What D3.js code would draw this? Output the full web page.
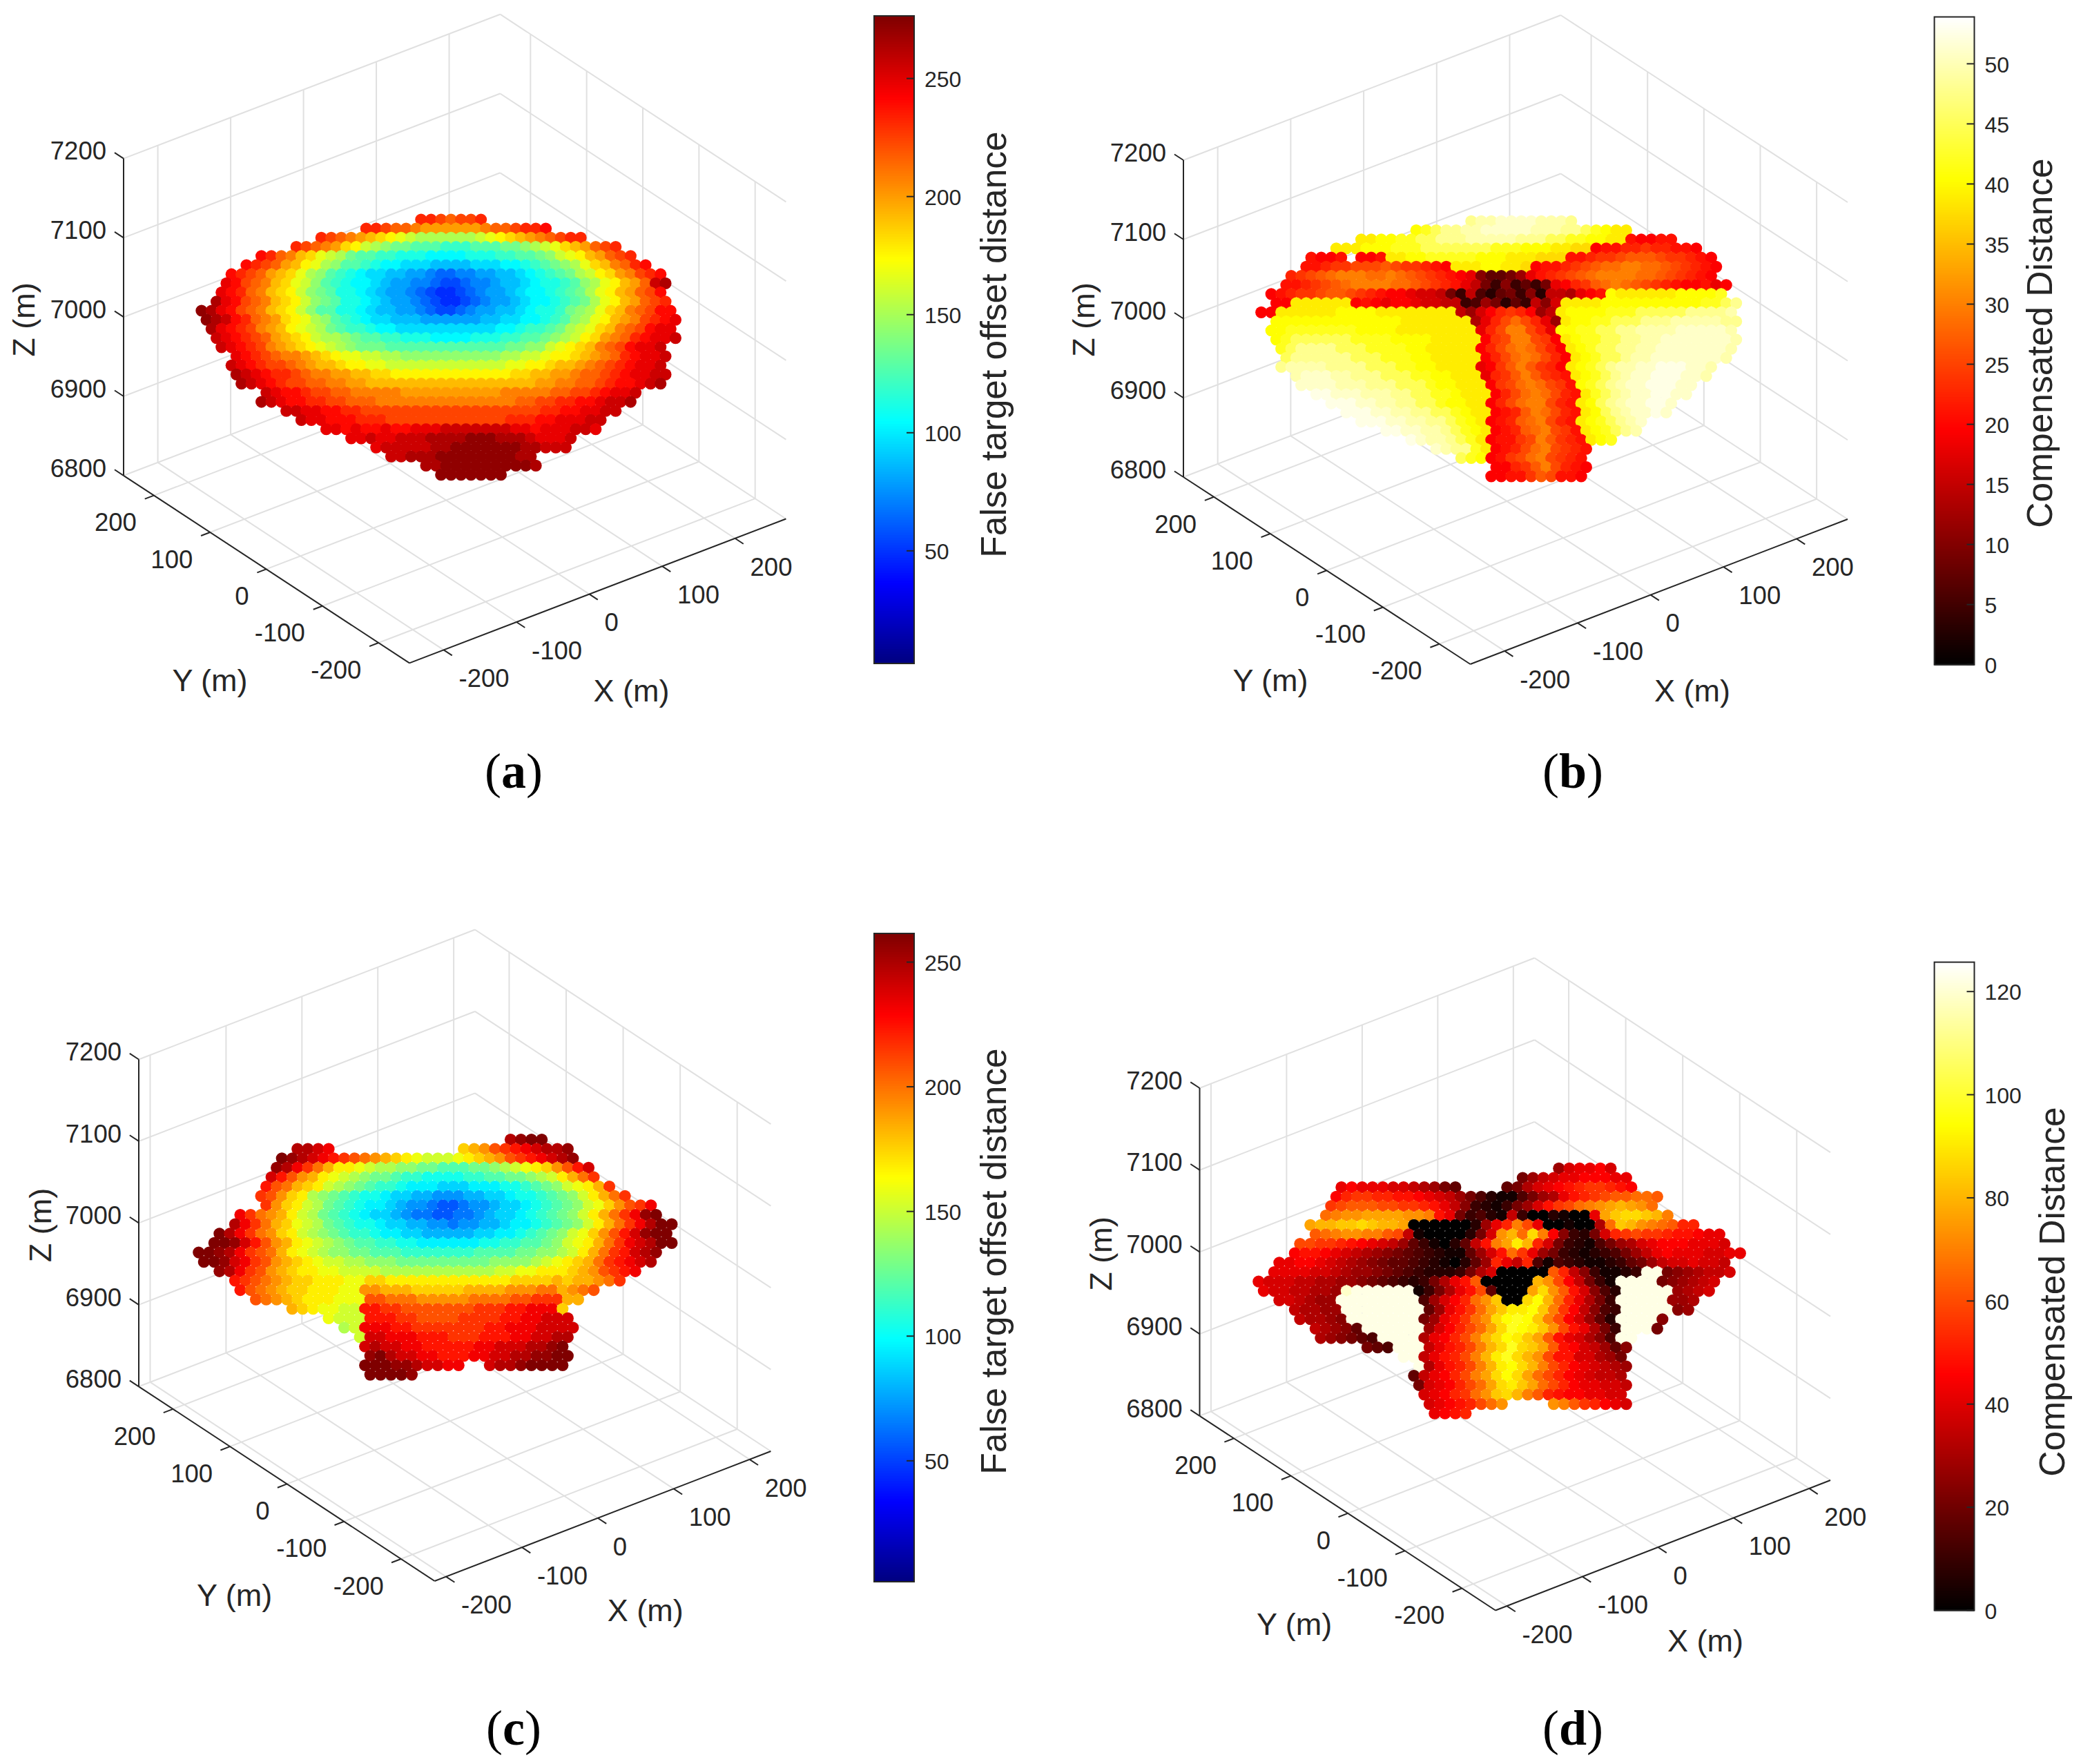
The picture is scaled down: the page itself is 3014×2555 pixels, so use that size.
<!DOCTYPE html>
<html><head><meta charset="utf-8">
<script src="https://cdn.jsdelivr.net/npm/d3@7"></script>
<style>html,body{margin:0;background:#fff}svg{display:block}text{font-family:"Liberation Sans",Arial,sans-serif;fill:#262626}</style>
</head><body>
<script>
// Axis tick labels
const xyTicks = [-200,-100,0,100,200];
const zTicks = [6800,6900,7000,7100,7200];
const barTicksA = [50,100,150,200,250];
const barTicksB = [0,5,10,15,20,25,30,35,40,45,50];
const barTicksC = [50,100,150,200,250];
const barTicksD = [0,20,40,60,80,100,120];
const barLimitsA = [2.3,276.5], barLimitsB = [0,53.9], barLimitsC = [1.5,261.5], barLimitsD = [0,125.7];

// Point samples. Each row is one apparent height (read against the Z axis);
// [first column, one base-36 digit per point]; a digit times the panel's step is the colour value.
const levelRowsA = [
[22,"ttsrsst"],[16,"ttsrrqppppppqrrsttu"],[12,"tsrqponmlkjjjjjjklmnopqrstt"],[9,"tsrqpnmkjihhgggfffggghhijklnoprst"],
[6,"utrqonlkjhggffeeeddddeeeffgghiklmoprst"],[4,"utsrpomljiggfeddcccbbbbcccddefghijlnoqrtu"],[3,"utsrponljigfedccbbaa98899aabbcdefghjkmnpqstu"],
[2,"vusrqonlkigfeddcbaa99877899abbcdeefgijlmoprwx"],[2,"vutrqonmkihgeedcbaa98766789aabcddefghjlmoprsu"],[1,"xvusrqonmkihgeedcbaa98766789aabcddefghjlmoprst"],
[0,"yxvusrqonmkiggeedcbbaa987789aabbcdeefhijlnoqrsuu"],[0,"yxwutrqpnmljigfedccbbbaaaaaabbccddefgijlmopqstuv"],[1,"xvutsqpomlkjhgffeddccccccccccddeffghjklnoqrsuvv"],
[1,"wvutsrponmkjjihggffeeeddddeeeffgghijkmnpqrtuvvw"],[2,"wvutsqponmlkjihhhgggggggggggghhiiklmnoqrsuvvw"],[3,"vutsrqqponmllkkjjiiiiiiiiiijjkklmmnopqrtuvvw"],
[3,"wvutssrqpoonmmllkkkkkkkkkkkkllmmnoopqrstuvvw"],[3,"xwvuttsrqqppoonnmmmmmmmmmmmmnnooppqrrstuvvww"],[4,"xwvutssrrqqppoooooooooooooooooppqqrrstuuvwx"],
[6,"wvuutssrrqqqqqppppppppppqqqqqrrsstuvvw"],[6,"xwvuuttssrrrqqqqqqqqqqqqqqrrssttuuvwwx"],[8,"wwvvuuttssssssssssssssssssttuuvvww"],
[10,"wvvuuutttsssssssssssstttuuvvvww"],[12,"vvuvuuvuuvvvwwwwwwwvvuvvvwwv"],[15,"vvwvvwwwxxxxyyyxxxwvvvw"],[17,"vwwwwwxxyyyyyyyxxwww"],[19,"wwxxxyyyyyyyyxx"],[22,"xxyyyyyyyyyx"],[24,"yyyyyyy"]];
const levelRowsB = [
[21,"wxxyyyyxxxw"],[15,"rsuwwxxyyyyyxxxwwusrqq"],[10,"qqrrssuuwwwxxxxxwwwuussrrqqeddee"],[7,"qqqrrrsssuuuuuuusssrrrqqppdeeffgffeed"],
[5,"edde ddeqqrrsssssrrrqqqpppeefgghiiihggfed"],[4,"eefgghhhihggfedqqqrrqqpdeefghijjkkjjihgfed"],[3,"fghijkkkjjkjihgfedc75568cefghijkkkkjjihgfed"],
[2,"eefghijkkkkjjihgfeca6373536cdfgijkjihgfeddecd"],[1,"defgghiihgfeddcbba63a4256372aa9cderqqqqqqrrrrs"],[1,"ddqqqqqqdedcddcbbaa3486253a7bqqqqrrrrrrrrrrssuw"],
[0,"ddqqqqqqrrrrqqqqqqqqa8bdfgfd8aqrrrrsssuuuuuwwwwx"],[1,"rrrrrrrrrrrrrqqqqqqq9cfhjhfc8qrrssuuuwwwxxxxxww"],[1,"rrsssssssrrrrqqqqqqqqcfhkkhfcrrssuuwwxxxxyyyyyx"],
[1,"rsuuuuuussssrrrrqqqqqdghkkhgdqrssuuwwxxyyyyyyyx"],[2,"suwwwwuuussssrrqqqqqdfhjkjhfdqrsuuwwxxyyyyyyyx"],[2,"uwwwwwwuuusssrrqqqqqdfhjkjhfdqrsuuwxxyyyyyyyx"],
[2,"wxxxxwwwwuuussrrqqqqcdgikigfdqrsuwxxyyzzzyyx"],[3,"xyyyxxwwwuuussrrqqqcfgikigfeqrsuwxyyzzzyyx"],[4,"yyyyxxxwwwuuusrrqqqdghjkjhgersuwxyyzzzyy"],
[5,"zzyyyxxxwwuussrqqqdfhjkjhfeqsuwxyyzzyy"],[7,"zzzyyxxwwuusrrqqdfhjkkhfeqruwxyyzzy"],[8,"zzzyyxxwwuusrqqdefikjhfeqruwxyyzy"],
[10,"zzzyyxxwwusrqdefijkhfeqrsuwxy"],[12,"zzyyxxwusrqdefijkhgeqrsuwx"],[15,"zyxxwusqdeeghkigfeqrs"],[17,"yxwwsqdefhjkhgfe"],[20,"usrdeghjkhgfe"],[23,"ddfgikhfed"],[23,"ddeegiheed"]];
const levelRowsC = [
[30,"vwxx"],[9,"vvut            mnoqrstuvvw"],[8,"xwvutsrqponmlkjjjklmnoqrstuvw"],[7,"wvtrpnllkjiihhggfffgghijklmoqsu"],
[7,"usqonlkjihggfeeddddeeffgghijlnpr"],[6,"sqpnmljihgfeedcccbbbcccddefghjklnr"],[6,"rqomlihgfeddcbbaa999aabbcddefghjlnpr"],
[6,"romljigfedccba99877899abbcdefghjkmoqrt"],[4,"trponljigfedcbba98877889abbcdefghjlnprtwx"],[3,"vtrpnmkjigfeddcbbaa99899aabccdefghjlnprtvxy"],
[2,"xvtrpomljihgfeedccbbaaaaabbccdefghjkmoqsuwxx"],[1,"yxwusqonlkjihgffeeddccccccddeeffghjklnprtuvxx"],[0,"yxwvtrqpnlkjihhggfffeeeeeeeffffgghhijlnprsuvw"],
[0,"yxwutrqonmlkjjiihhhggggggggghhhhijklmnprstuv"],[2,"wvtrqonmllkkjjjjiiiiiiiiiiijjkklllmnoqrst"],[3,"srqponmmlllkkmmllllllllllllmmmmnmnnopr"],
[4,"sqponmmlllkkoonnnmmmmmnnnnoooppnopq"],[5,"qponmlllkkkqqpppoooooppppqqrrrnn"],[9,"nmlkkjjssrrqqqqqqqrrrsstttm"],
[12,"kjjjsssrrqqqqrrrrssttuuu"],[14,"ijtttssrrrrrrrsstttuuuu"],[15,"juutttsssrrrsssttuuvv"],[16,"uvuuttsssssttuuuvvwx"],[16,"wxvuuttsssttuuvvwwxx"],
[16,"xyxwwvuutt  uvvwxxyy"],[16,"yyxxw"]];
const levelRowsD = [
[29,"8bccdb"],[25,"68abccdddcc"],[8,"cdcccbba9865    569bcdefggfed"],[7,"dfggffeedcba8642114689cefghiijji"],
[7,"ghiiihhggfeca7321368beghjklmnmlj"],[6,"jkllmmmmllkec63421a3002100cmopponk"],[5,"mnnooponnm00000028cfkhc001009jonlkjiff"],
[5,"ijkllkkiha1000026blnjpkd7326bfghggfeedcc"],[4,"hhggfedcba8531025aekmqnfb63214689bcdddcccb"],[3,"deedcba987654321158bejgc8632123468acdcccbbcc"],
[2,"ccddcba98765543210258fcaf414321123568abbcbba"],[1,"ccccbba98876543222369b00000ifa731123zz6789aab"],[0,"cbbbaa9988765432369cei00000nlhda631zzzz6789ab"],
[0,"cbbaa998yzzzzzz1369ceh5000mplieb742zzzzz89ab"],[2,"bba988zzzzzzzz48bdfjlo00prnjfc963zzzzz889"],[3,"a9988zzzzzzzz58cegjmoqqrokgda743zzzzz78"],
[4,"a9987zzzzzzz68cegjlprsrokhdb852zzzz7"],[5,"a9875zzzzzz8bdfhjmpsrqolhec963zzz6"],[6,"987654zzzz9cdfhknprqomiecb974zz"],
[10,"654zzzacefhknpspomiedba857"],[14,"zzacefhknqspnlheebb986"],[15,"z9cefhknqrpnkhfdcba98"],[15,"5acdfhkmprpmjhfdcbaa9"],[15,"6bcdfhjmpqomjhfdccbba"],
[16,"bcdfgjlopnkifeddccbb"],[16,"bcdefhjl    lkigfdcb"],[17,"cdef"]];

const W = 3014, H = 2555;
const svg = d3.select("body").append("svg").attr("width",W).attr("height",H);
const jetMap = d3.scaleLinear().domain([0,.125,.375,.625,.875,1]).range(["#00007f","#0000ff","#00ffff","#ffff00","#ff0000","#7f0000"]).clamp(true);
const hotMap = d3.scaleLinear().domain([0,.365,.75,1]).range(["#000000","#ff0000","#ffff00","#ffffff"]).clamp(true);

const panels = [
 {cap:"a",rows:levelRowsA,step:8,map:jetMap,lim:barLimitsA,ticks:barTicksA,title:"False target offset distance",
  xDom:[-247,270],yDom:[-255,254],front:[593,960.4],right:[1138.4,751.5],left:[179,688.8],zTop:229.6,
  h0:-529,z0:7123,bar:[1266,1324,23,961],titleX:1457,titleY:499,capX:744,capY:1141,
  yl:[304,985],xl:[914.6,1000],zl:[35.4,463]},
 {cap:"b",rows:levelRowsB,step:1.5,map:hotMap,lim:barLimitsB,ticks:barTicksB,title:"Compensated Distance",
  xDom:[-247,270],yDom:[-255,254],front:[2129.5,962],right:[2676,752],left:[1714,691],zTop:232,
  h0:-530,z0:7123,bar:[2801.6,2859.5,24.5,962.7],titleX:2972,titleY:497,capX:2278,capY:1141,
  yl:[1840,985.7],xl:[2451,1000],zl:[1569.5,463]},
 {cap:"c",rows:levelRowsC,step:8,map:jetMap,lim:barLimitsC,ticks:barTicksC,title:"False target offset distance",
  xDom:[-215,228],yDom:[-259,260],front:[629.5,2290],right:[1116.4,2102],left:[201,2008.3],zTop:1534.5,
  h0:-522.5,z0:7102,bar:[1266,1324,1352,2291],titleX:1457,titleY:1827,capX:744,capY:2527,
  yl:[339.6,2310],xl:[934.7,2332.5],zl:[59,1774.6]},
 {cap:"d",rows:levelRowsD,step:3.5,map:hotMap,lim:barLimitsD,ticks:barTicksD,title:"Compensated Distance",
  xDom:[-215,228],yDom:[-259,260],front:[2166,2332.5],right:[2651,2144],left:[1737.5,2050.8],zTop:1576,
  h0:-525,z0:7102,bar:[2801.6,2859.5,1393.6,2332.5],titleX:2990,titleY:1871,capX:2278,capY:2527,
  yl:[1874.6,2352.5],xl:[2470,2376.5],zl:[1594.6,1816]}
];

panels.forEach(p=>{
  const g = svg.append("g");
  const [fx,fy]=p.front,[rx,ry]=p.right,[lx,ly]=p.left;
  const xX=d3.scaleLinear().domain(p.xDom).range([0,rx-fx]), xY=d3.scaleLinear().domain(p.xDom).range([0,ry-fy]);
  const yX=d3.scaleLinear().domain(p.yDom).range([0,lx-fx]), yY=d3.scaleLinear().domain(p.yDom).range([0,ly-fy]);
  const zS=d3.scaleLinear().domain([6800,7200]).range([0,p.zTop-ly]);
  const P=(x,y,z)=>[fx+xX(x)+yX(y), fy+xY(x)+yY(y)+zS(z)];
  const [x0,x1]=p.xDom,[y0,y1]=p.yDom,[z0,z1]=[6800,7200];
  const seg=(a,b,col,w)=>g.append("line").attr("x1",a[0]).attr("y1",a[1]).attr("x2",b[0]).attr("y2",b[1]).attr("stroke",col).attr("stroke-width",w);
  const gc="#e0e0e0", gw=2;
  xyTicks.forEach(t=>{
    seg(P(t,y0,z0),P(t,y1,z0),gc,gw); seg(P(t,y1,z0),P(t,y1,z1),gc,gw);
    seg(P(x0,t,z0),P(x1,t,z0),gc,gw); seg(P(x1,t,z0),P(x1,t,z1),gc,gw);
  });
  zTicks.forEach(t=>{ seg(P(x0,y1,t),P(x1,y1,t),gc,gw); seg(P(x1,y0,t),P(x1,y1,t),gc,gw); });
  const ac="#262626", aw=2;
  seg(P(x0,y0,z0),P(x1,y0,z0),ac,aw); seg(P(x0,y0,z0),P(x0,y1,z0),ac,aw); seg(P(x0,y1,z0),P(x0,y1,z1),ac,aw);
  const label=(x,y,s,anchor,size)=>g.append("text").attr("x",x).attr("y",y).attr("dy",".35em").attr("text-anchor",anchor).attr("font-size",size).text(s);
  xyTicks.forEach(t=>{
    let a=P(t,y0,z0); seg(a,P(t,y0-15,z0),ac,aw); label(a[0]+22,a[1]+41,t,"start",36.5);
    a=P(x0,t,z0); seg(a,P(x0-12.5,t,z0),ac,aw); label(a[0]-25,a[1]+39,t,"end",36.5);
  });
  zTicks.forEach(t=>{ const a=P(x0,y1,t); seg(a,P(x0,y1+16,t),ac,aw); label(a[0]-25,a[1]-11,t,"end",36.5); });
  label(p.yl[0],p.yl[1],"Y (m)","middle",45);
  label(p.xl[0],p.xl[1],"X (m)","middle",45);
  g.append("text").attr("transform",`translate(${p.zl[0]+15},${p.zl[1]}) rotate(-90)`).attr("text-anchor","middle").attr("font-size",45).text("Z (m)");

  // points: h read against the X axis horizontally, z read against the Z axis vertically
  const hS=d3.scaleLinear().domain(p.xDom).range([fx,rx]);
  const vS=d3.scaleLinear().domain([6800,7200]).range([ly,p.zTop]);
  const colour=v=>p.map((v-p.lim[0])/(p.lim[1]-p.lim[0]));
  const pts=[];
  p.rows.forEach((r,i)=>{
    Array.from(r[1]).forEach((c,k)=>{
      if(c===" ")return;
      pts.push({h:p.h0+(r[0]+k+(i%2)/2-.25)*13.7, z:p.z0-11.5*i, v:parseInt(c,36)*p.step});
    });
  });
  g.append("g").selectAll("circle").data(pts).join("circle")
    .attr("cx",d=>hS(d.h)).attr("cy",d=>vS(d.z)).attr("r",8.6).attr("fill",d=>colour(d.v));

  // colour bar
  const [bx0,bx1,bt,bb]=p.bar;
  const bs=d3.scaleLinear().domain(p.lim).range([bb,bt]);
  const cells=d3.range(256);
  g.append("g").selectAll("rect").data(cells).join("rect")
    .attr("x",bx0).attr("width",bx1-bx0)
    .attr("y",d=>bt+(bb-bt)*(255-d)/256).attr("height",(bb-bt)/256+1)
    .attr("fill",d=>p.map((d+.5)/256));
  g.append("rect").attr("x",bx0).attr("y",bt).attr("width",bx1-bx0).attr("height",bb-bt).attr("fill","none").attr("stroke",ac).attr("stroke-width",2);
  p.ticks.forEach(t=>{
    const y=bs(t);
    seg([bx1-11,y],[bx1,y],ac,2);
    label(bx1+15,y+1,t,"start",32);
  });
  g.append("text").attr("transform",`translate(${p.titleX},${p.titleY}) rotate(-90)`).attr("text-anchor","middle").attr("font-size",51.5).text(p.title);

  // caption
  const cap=g.append("text").attr("x",p.capX).attr("y",p.capY).attr("text-anchor","middle").attr("font-size",72).style("font-family","'Liberation Serif',serif").style("fill","#000");
  cap.append("tspan").text("(");
  cap.append("tspan").attr("font-weight","bold").text(p.cap);
  cap.append("tspan").text(")");
});
</script>
</body></html>
